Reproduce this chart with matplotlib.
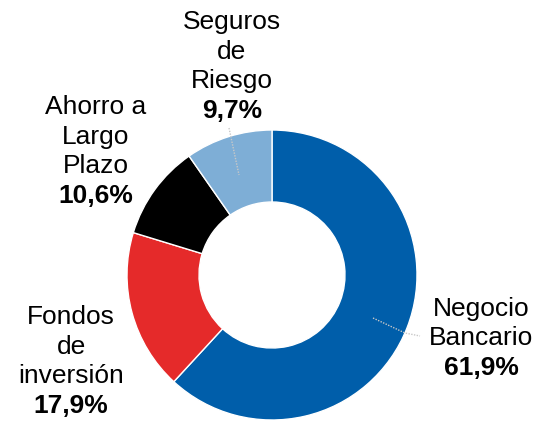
import matplotlib
matplotlib.use("Agg")
import matplotlib.pyplot as plt

plt.rcParams['font.family'] = ['Liberation Sans', 'DejaVu Sans']

# data
categories = ["Negocio\nBancario", "Fondos\nde\ninversión", "Ahorro a\nLargo\nPlazo", "Seguros\nde\nRiesgo"]
shares = [61.9, 17.9, 10.6, 9.7]
colors = ["#005EAA", "#E52A2A", "#000000", "#7EAED6"]

W, H = 536, 424
fig = plt.figure(figsize=(W / 100, H / 100), dpi=100)
ax = fig.add_axes([0, 0, 1, 1])

cx, cy, R = 272, H - 275, 145
ax.pie(shares, colors=colors, startangle=90, counterclock=False,
       center=(cx, cy), radius=R,
       wedgeprops=dict(width=72, edgecolor="white", linewidth=1))
ax.set_xlim(0, W)
ax.set_ylim(0, H)
ax.set_aspect("equal")
ax.axis("off")

# label positions (x center, baseline of last name line), pixels from top
label_pos = [(481, 345), (71, 383), (96, 173), (232, 88)]
for name, val, (x, yb) in zip(categories, shares, label_pos):
    ax.text(x, H - yb, name, ha="center", va="baseline", fontsize=19,
            linespacing=1.28, multialignment="center")
    pct = f"{val:.1f}".replace(".", ",") + "%"
    ax.text(x, H - yb - 30, pct, ha="center", va="baseline", fontsize=19,
            fontweight="bold")

# leader lines
lc = "#c8c8c8"
ax.plot([229, 239], [H - 128, H - 175], color=lc, lw=1, ls=(0, (1, 1)))
ax.plot([373, 405, 420], [H - 318, H - 333, H - 336], color=lc, lw=1, ls=(0, (1, 1)))

fig.savefig("out.png", dpi=100)
